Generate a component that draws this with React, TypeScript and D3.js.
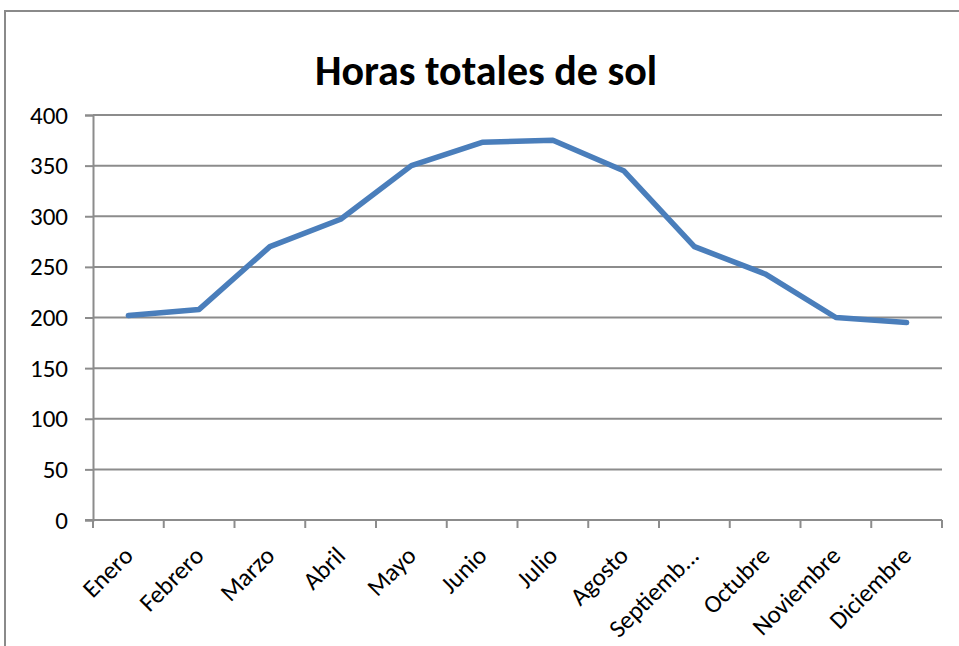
import React, { useEffect, useRef } from "react";
import * as d3 from "d3";

const months = [
  "Enero", "Febrero", "Marzo", "Abril", "Mayo", "Junio",
  "Julio", "Agosto", "Septiemb...", "Octubre", "Noviembre", "Diciembre",
];
const hours = [202, 208, 270, 297, 350, 373, 375, 345, 270, 243, 200, 195];
const yTicks = [0, 50, 100, 150, 200, 250, 300, 350, 400];
const title = "Horas totales de sol";

export default function App() {
  const ref = useRef<SVGSVGElement | null>(null);

  useEffect(() => {
    const width = 959;
    const height = 646;
    const margin = { top: 115, right: 17, bottom: 126, left: 93 };
    const boundedWidth = width - margin.left - margin.right;
    const boundedHeight = height - margin.top - margin.bottom;
    const font = "Carlito, Calibri, Lato, sans-serif";

    const svg = d3.select(ref.current);
    svg.selectAll("*").remove();
    svg.attr("width", width).attr("height", height);

    svg.append("rect")
      .attr("width", width).attr("height", height).attr("fill", "#fff");

    // chart frame
    svg.append("rect")
      .attr("x", 5).attr("y", 11)
      .attr("width", width + 10).attr("height", height + 10)
      .attr("fill", "none")
      .attr("stroke", "#8a8a8a")
      .attr("stroke-width", 2);

    svg.append("text")
      .attr("x", 486).attr("y", 85)
      .attr("text-anchor", "middle")
      .style("font-family", font)
      .style("font-weight", "bold")
      .style("font-size", "42px")
      .text(title);

    const bounds = svg.append("g")
      .attr("transform", `translate(${margin.left}, ${margin.top})`);

    const xScale = d3.scaleBand()
      .domain(months)
      .range([0, boundedWidth]);

    const yScale = d3.scaleLinear()
      .domain([0, 400])
      .range([boundedHeight, 0]);

    // gridlines
    bounds.selectAll(".grid")
      .data(yTicks.filter(d => d > 0))
      .enter().append("line")
      .attr("x1", 0).attr("x2", boundedWidth)
      .attr("y1", d => yScale(d)).attr("y2", d => yScale(d))
      .attr("stroke", "#8c8c8c")
      .attr("stroke-width", 2);

    // y axis
    const yAxis = bounds.append("g")
      .call(d3.axisLeft(yScale).tickValues(yTicks).tickSize(8).tickPadding(17));
    yAxis.select(".domain").attr("stroke", "#8c8c8c").attr("stroke-width", 2);
    yAxis.selectAll(".tick line").attr("stroke", "#8c8c8c").attr("stroke-width", 2);
    yAxis.selectAll("text")
      .style("font-family", font)
      .style("font-size", "25px")
      .attr("fill", "#000");

    // x axis
    const xAxis = bounds.append("g")
      .attr("transform", `translate(0, ${boundedHeight})`);
    xAxis.append("line")
      .attr("x1", -8).attr("x2", boundedWidth)
      .attr("stroke", "#8c8c8c").attr("stroke-width", 2);
    const edges = [...months.map(m => xScale(m) as number), boundedWidth];
    xAxis.selectAll(".xtick")
      .data(edges)
      .enter().append("line")
      .attr("x1", d => d).attr("x2", d => d)
      .attr("y1", 0).attr("y2", 8)
      .attr("stroke", "#8c8c8c").attr("stroke-width", 2);
    xAxis.selectAll(".xlabel")
      .data(months)
      .enter().append("text")
      .attr("transform", d =>
        `translate(${(xScale(d) as number) + xScale.bandwidth() / 2}, 31) rotate(-45)`)
      .attr("text-anchor", "end")
      .attr("dy", "0.35em")
      .style("font-family", font)
      .style("font-size", "25px")
      .text(d => d);

    // line
    const line = d3.line<number>()
      .x((_, i) => (xScale(months[i]) as number) + xScale.bandwidth() / 2)
      .y(d => yScale(d));

    bounds.append("path")
      .datum(hours)
      .attr("d", line)
      .attr("fill", "none")
      .attr("stroke", "#4a7ebb")
      .attr("stroke-width", 5.5)
      .attr("stroke-linejoin", "round")
      .attr("stroke-linecap", "round");
  }, []);

  return (
    <div style={{ position: "absolute", left: 0, top: 0 }}>
      <svg ref={ref} style={{ display: "block" }} />
    </div>
  );
}
